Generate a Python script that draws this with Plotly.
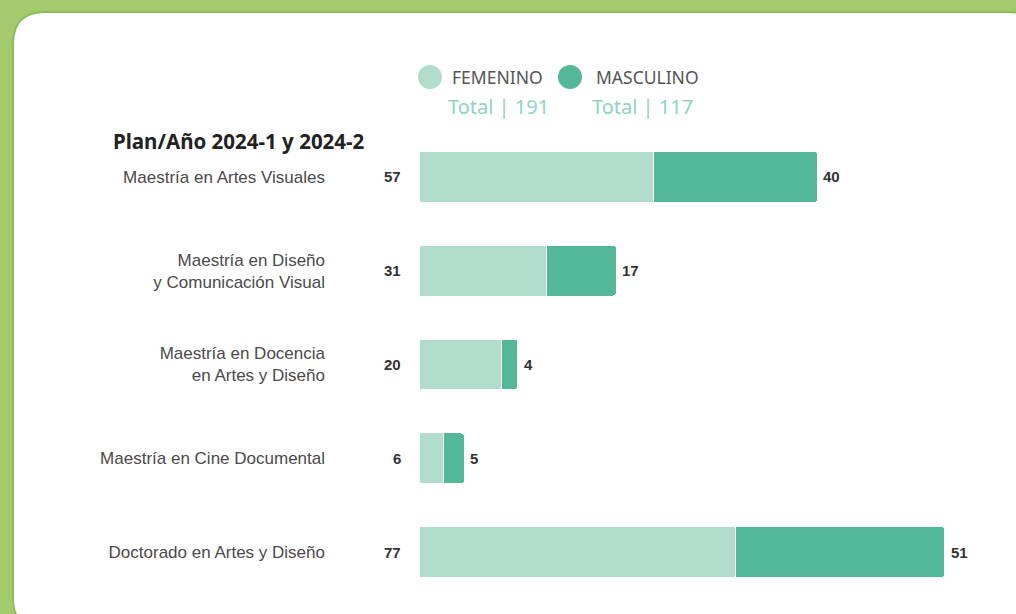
import plotly.graph_objects as go

# ---- data ----
categories = [
    "Maestría en Artes Visuales",
    "Maestría en Diseño<br>y Comunicación Visual",
    "Maestría en Docencia<br>en Artes y Diseño",
    "Maestría en Cine Documental",
    "Doctorado en Artes y Diseño",
]
femenino = [57, 31, 20, 6, 77]
masculino = [40, 17, 4, 5, 51]
total_fem = 191
total_masc = 117
title_text = "Plan/Año 2024-1 y 2024-2"

# ---- styling ----
C_FEM = "#b2dccb"
C_MASC = "#53b897"
C_TOTAL = "#8fd3c0"
C_BG = "#a4ca6e"

W_FIG, H_FIG = 1016, 614
L, R, T, B = 419, 994, 130, 599


def px(x):
    return (x - L) / (R - L)


def py(y):
    return (B - y) / (B - T)


fig = go.Figure()
fig.add_trace(go.Bar(
    y=categories, x=femenino, orientation="h", name="FEMENINO",
    marker=dict(color=C_FEM, line=dict(color="white", width=1)),
    width=0.54, hoverinfo="x",
))
fig.add_trace(go.Bar(
    y=categories, x=masculino, orientation="h", name="MASCULINO",
    marker=dict(color=C_MASC, line=dict(color="white", width=1)),
    width=0.54, hoverinfo="x",
))

annotations = []
for cat, f, m in zip(categories, femenino, masculino):
    annotations.append(dict(x=0, y=cat, xref="x", yref="y", text=f"<b>{f}</b>",
                            showarrow=False, xanchor="right", xshift=-16,
                            font=dict(family="Liberation Sans", size=15, color="#333333")))
    annotations.append(dict(x=f + m, y=cat, xref="x", yref="y", text=f"<b>{m}</b>",
                            showarrow=False, xanchor="left", xshift=4,
                            font=dict(family="Liberation Sans", size=15, color="#333333")))

# title
annotations.append(dict(x=px(111), y=py(141), xref="paper", yref="paper", text=f"<b>{title_text}</b>",
                        showarrow=False, xanchor="left", yanchor="middle",
                        font=dict(family="Noto Sans", size=20.5, color="#222222")))
# legend texts
for xpos, lab in [(450, "FEMENINO"), (594, "MASCULINO")]:
    annotations.append(dict(x=px(xpos), y=py(77), xref="paper", yref="paper", text=lab,
                            showarrow=False, xanchor="left", yanchor="middle",
                            font=dict(family="Noto Sans", size=17.5, color="#555555")))
for xpos, tot in [(446, total_fem), (590, total_masc)]:
    annotations.append(dict(x=px(xpos), y=py(106), xref="paper", yref="paper", text=f"Total | {tot}",
                            showarrow=False, xanchor="left", yanchor="middle",
                            font=dict(family="Noto Sans", size=20, color=C_TOTAL)))

shapes = []
# white rounded panel
x0, y0, x1, y1, r = 13, 12, 1040, 630, 32
rx = r / (R - L)
ry = r / (B - T)
X0, X1, Y0, Y1 = px(x0), px(x1), py(y0), py(y1)
path = (f"M {X0+rx},{Y0} L {X1-rx},{Y0} Q {X1},{Y0} {X1},{Y0-ry} "
        f"L {X1},{Y1+ry} Q {X1},{Y1} {X1-rx},{Y1} L {X0+rx},{Y1} Q {X0},{Y1} {X0},{Y1+ry} "
        f"L {X0},{Y0-ry} Q {X0},{Y0} {X0+rx},{Y0} Z")
shapes.append(dict(type="path", xref="paper", yref="paper", path=path,
                   fillcolor="white", line=dict(color="#8cbd5a", width=2), layer="below"))
# legend circles
for cx, col in [(430, C_FEM), (570, C_MASC)]:
    shapes.append(dict(type="circle", xref="paper", yref="paper",
                       x0=px(cx - 12), x1=px(cx + 12), y0=py(77 + 12), y1=py(77 - 12),
                       fillcolor=col, line=dict(width=0)))

fig.update_layout(
    width=W_FIG, height=H_FIG,
    barmode="stack", barcornerradius=3,
    showlegend=False,
    paper_bgcolor=C_BG, plot_bgcolor="rgba(0,0,0,0)",
    margin=dict(l=L, r=W_FIG - R, t=T, b=H_FIG - B, autoexpand=False),
    xaxis=dict(range=[0, 140], visible=False, fixedrange=True),
    yaxis=dict(range=[4.5, -0.5], showgrid=False, zeroline=False, showline=False,
               ticks="", ticklabelstandoff=93, fixedrange=True,
               tickfont=dict(family="Liberation Sans", size=17, color="#4a4a4a")),
    annotations=annotations, shapes=shapes,
)

fig.write_html("out.html", config={"displayModeBar": False},
               post_script="document.body.style.margin='0';document.body.style.overflow='hidden';")
